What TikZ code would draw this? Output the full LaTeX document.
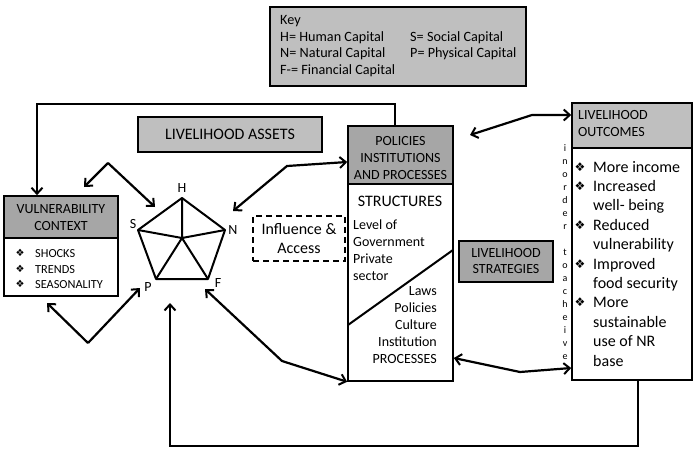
\documentclass[tikz,border=0pt]{standalone}
\usepackage{fontspec}
\setmainfont{Carlito}
\newfontfamily\dejavu{DejaVu Sans}
\usetikzlibrary{arrows.meta}
\definecolor{gA}{HTML}{A6A6A6}
\definecolor{gB}{HTML}{BFBFBF}
\begin{document}
\begin{tikzpicture}[x=1pt,y=-1pt,
  box/.style={draw, line width=1.6pt, inner sep=0pt},
  txt/.style={inner sep=0pt, anchor=base west},
  txtc/.style={inner sep=0pt, anchor=base},
  txte/.style={inner sep=0pt, anchor=base east},
  fa/.style={font=\fontsize{14.2}{17}\selectfont},
  fb/.style={font=\fontsize{14}{17}\selectfont},
  fc/.style={font=\fontsize{16}{19}\selectfont},
  fd/.style={font=\fontsize{12.3}{16}\selectfont},
  barb/.tip={Straight Barb[length=6pt,width=11pt,line width=2pt]},
  arr/.style={line width=2.2pt, barb-barb},
  arrone/.style={line width=2.2pt, -barb},
  ln/.style={line width=2pt},
  bul/.style={inner sep=0pt, anchor=base, font=\dejavu\fontsize{10}{12}\selectfont}
]
\useasboundingbox (0,0) rectangle (698,452);

% Key box
\node[box, fill=gB, minimum width=256pt, minimum height=79pt] (key) at (398,46.5) {};
\node[txt, fa] (k0) at (280,25) {Key};
\node[txt, fa] (k1) at (280,41.5) {H= Human Capital};
\node[txt, fa] (k2) at (280,58) {N= Natural Capital};
\node[txt, fa] (k3) at (280,74.5) {F-= Financial Capital};
\node[txt, fa] (k4) at (410,41.5) {S= Social Capital};
\node[txt, fa] (k5) at (410,58) {P= Physical Capital};

% Livelihood assets
\node[box, fill=gB, minimum width=184pt, minimum height=35pt, fc] (assets) at (230,134.5) {LIVELIHOOD ASSETS};

% Vulnerability context
\node[box, fill=gA, minimum width=114pt, minimum height=42pt] (vulh) at (61,217) {};
\node[box, fill=white, minimum width=114pt, minimum height=58pt] (vulb) at (61,267) {};
\node[txtc, fb] (vt1) at (61,213) {VULNERABILITY};
\node[txtc, fb] (vt2) at (61,230) {CONTEXT};
\node[bul] (vb1) at (20,256) {❖};
\node[bul] (vb2) at (20,272) {❖};
\node[bul] (vb3) at (20,287) {❖};
\node[txt, fd] (vs1) at (35,257) {SHOCKS};
\node[txt, fd] (vs2) at (35,273) {TRENDS};
\node[txt, fd] (vs3) at (35,288) {SEASONALITY};

% Pentagon
\coordinate (H) at (182,198);
\coordinate (S) at (138,230);
\coordinate (N) at (225,230);
\coordinate (P) at (156,279);
\coordinate (F) at (208,279);
\coordinate (O) at (182,238);
\draw[ln, line join=round] (H) -- (S) -- (P) -- (F) -- (N) -- cycle;
\draw[ln] (O) -- (H) (O) -- (S) (O) -- (N) (O) -- (P) (O) -- (F);
\node[txtc, fb] (lH) at (182,192) {H};
\node[txtc, fb] (lS) at (133,228) {S};
\node[txtc, fb] (lN) at (233,234) {N};
\node[txtc, fb] (lP) at (148,291) {P};
\node[txtc, fb] (lF) at (218,287) {F};

% Influence & Access
\node[draw, line width=1.8pt, dash pattern=on 6pt off 4pt, minimum width=92pt, minimum height=45pt, inner sep=0pt, align=center, fc] (infl) at (299,238.5) {Influence \&\\Access};

% Policies box
\node[box, fill=gA, minimum width=105pt, minimum height=58pt] (polh) at (400.5,155) {};
\node[box, fill=white, minimum width=105pt, minimum height=197pt] (polb) at (400.5,282.5) {};
\node[txtc, fb] (p1) at (400.5,145) {POLICIES};
\node[txtc, fb] (p2) at (400.5,162) {INSTITUTIONS};
\node[txtc, fb] (p3) at (400.5,179) {AND PROCESSES};
\node[txtc, fc] (p4) at (400,206) {STRUCTURES};
\node[txt, fb] (s1) at (353,229) {Level of};
\node[txt, fb] (s2) at (353,246) {Government};
\node[txt, fb] (s3) at (353,263) {Private};
\node[txt, fb] (s4) at (353,280) {sector};
\node[txte, fb] (r1) at (437,295) {Laws};
\node[txte, fb] (r2) at (437,312) {Policies};
\node[txte, fb] (r3) at (437,329) {Culture};
\node[txte, fb] (r4) at (437,346) {Institution};
\node[txte, fb] (r5) at (437,363) {PROCESSES};
\draw[ln] (348,325) -- (453,250);

% Livelihood strategies
\node[box, fill=gA, minimum width=94pt, minimum height=41pt, align=center, font=\fontsize{14}{16}\selectfont] (strat) at (506,261.5) {LIVELIHOOD\\STRATEGIES};

% vertical text
\foreach \ch [count=\i from 0] in {i,n,o,r,d,e,r,{},t,o,a,c,h,e,i,v,e}{
  \node[txtc, font=\fontsize{10}{12}\selectfont] (v\i) at (565,{151+13*\i}) {\ch};
}

% Outcomes
\node[box, fill=gB, minimum width=120pt, minimum height=45pt] (outh) at (632,125.5) {};
\node[box, fill=white, minimum width=120pt, minimum height=232pt] (outb) at (632,264) {};
\node[txt, fb] (o1) at (578,119) {LIVELIHOOD};
\node[txt, fb] (o2) at (578,136) {OUTCOMES};
\foreach \t/\b [count=\i from 0] in {More income/1,Increased/1,well- being/0,Reduced/1,vulnerability/0,Improved/1,food security/0,More/1,sustainable/0,use of NR/0,base/0}{
  \node[txt, fc] (ot\i) at (593,{172+19.4*\i}) {\t};
  \ifnum\b=1 \node[bul, font=\dejavu\fontsize{12}{14}\selectfont] (ob\i) at (580,{171+19.4*\i}) {❖};\fi
}

% connectors
\coordinate (va) at (108,163);
\coordinate (vt) at (84,187);
\coordinate (ht) at (155,207);
\draw[arrone] (va) -- (vt);
\draw[arrone] (va) -- (ht);

\coordinate (pa) at (88,343);
\draw[arrone] (pa) -- (47,303);
\draw[arrone] (pa) -- (140,288);

\coordinate (nb) at (287,166);
\draw[arr] (233,211) -- (nb) -- (polh.west |- 0,162);

\coordinate (fb) at (282,361);
\draw[arr] (205,289) -- (fb) -- (polb.south west);

\coordinate (ob) at (532,115);
\draw[arr] (470,135) -- (ob) -- (outh.west |- ob);

\coordinate (bb) at (520,372);
\draw[arr] (polb.east |- 0,358) -- (bb) -- (outb.west |- 0,368);

% top loop
\coordinate (t1) at (395,104);
\coordinate (t2) at (37,104);
\draw[arrone] (polh.north -| t1) -- (t1) -- (t2) -- (vulh.north -| t2);

% bottom loop
\coordinate (b1) at (638,446);
\coordinate (b2) at (170,446);
\coordinate (b3) at (170,303);
\draw[arrone] (outb.south -| b1) -- (b1) -- (b2) -- (b3);
\end{tikzpicture}
\end{document}
